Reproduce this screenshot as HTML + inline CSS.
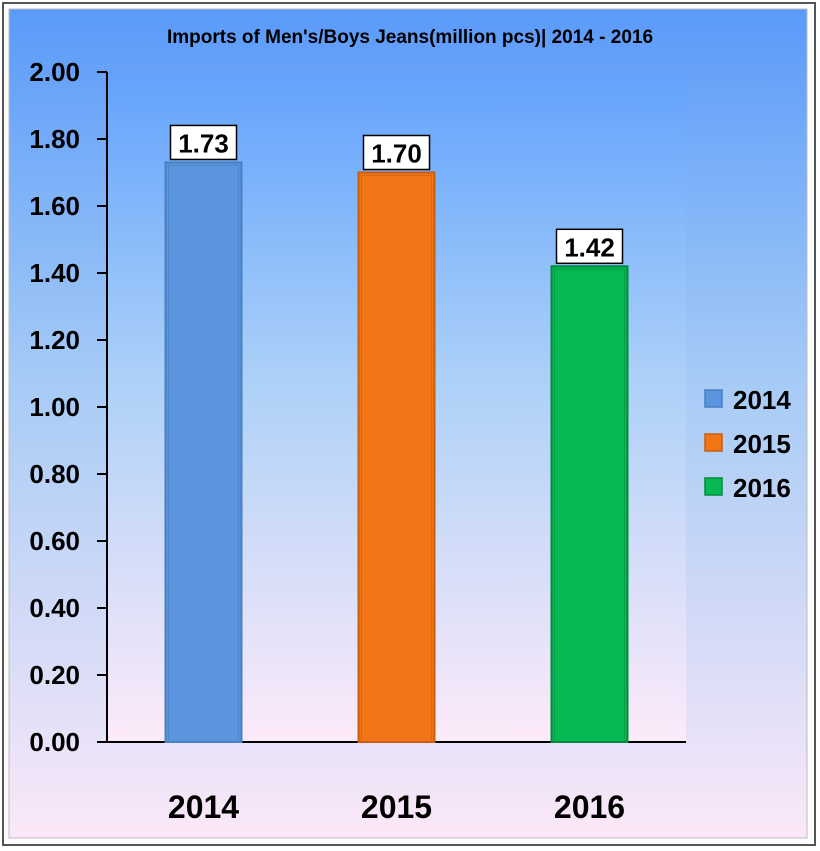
<!DOCTYPE html>
<html><head><meta charset="utf-8"><style>
body{margin:0;width:820px;height:851px;background:#fff;overflow:hidden}
svg{display:block;font-family:"Liberation Sans",sans-serif}
</style></head><body>
<svg width="820" height="851">
<defs>
<linearGradient id="bg" x1="0" y1="0" x2="0" y2="1"><stop offset="0" stop-color="#5a9afa"/><stop offset="0.45" stop-color="#a6cbf6"/><stop offset="1" stop-color="#fbe8f8"/></linearGradient>
<linearGradient id="pg" x1="0" y1="0" x2="0" y2="1"><stop offset="0" stop-color="#62a2fd"/><stop offset="0.45" stop-color="#abd0f8"/><stop offset="1" stop-color="#fdeaf9"/></linearGradient>
</defs>
<rect x="0" y="0" width="820" height="851" fill="#fff"/>
<rect x="3" y="3" width="812" height="842" fill="none" stroke="#555" stroke-width="2"/>
<rect x="9" y="9" width="798" height="829" fill="url(#bg)" stroke="#bbb" stroke-width="1"/>
<rect x="107" y="72" width="579" height="670" fill="url(#pg)"/>
<text x="410" y="43" text-anchor="middle" font-size="19" font-weight="bold" fill="#000">Imports of Men's/Boys Jeans(million pcs)| 2014 - 2016</text>
<g id="axes"></g>
<g id="bars"></g>
<g id="legend"></g>
</svg>
<script>
const categories=["2014","2015","2016"];
const values=[1.73,1.70,1.42];
const yTicks=[0,0.2,0.4,0.6,0.8,1.0,1.2,1.4,1.6,1.8,2.0];
const colors=["#5b95de","#f17415","#06b953"];
const strokes=["#4a7fc0","#c85e10","#038a3d"];
const NS="http://www.w3.org/2000/svg";
const X0=107,X1=686,Y0=742,Y1=72,YMAX=2;
const y=v=>Y0-(v/YMAX)*(Y0-Y1);
const band=(X1-X0)/categories.length;
const xc=i=>X0+band*(i+0.5);
function mk(t,a,p){const e=document.createElementNS(NS,t);for(const k in a)e.setAttribute(k,a[k]);p.appendChild(e);return e;}
const ax=document.getElementById('axes'),bg=document.getElementById('bars'),lg=document.getElementById('legend');
yTicks.forEach(v=>{
 const l=mk('line',{x1:97,x2:X0,y1:y(v),y2:y(v),stroke:'#000','stroke-width':2},ax);
 
 
 const t=mk('text',{x:80,y:y(v)+9,'text-anchor':'end','font-size':26,'font-weight':'bold'},ax);
 t.textContent=v.toFixed(2);
 
 
});
const ya=mk('line',{x1:X0,x2:X0,y1:Y1,y2:Y0,stroke:'#000','stroke-width':2},ax);


categories.forEach((c,i)=>{
 const bw=76,x=xc(i)-bw/2,top=y(values[i]);
 const r=mk('rect',{x:x,y:top,width:bw,height:Y0-top,fill:colors[i],stroke:strokes[i],'stroke-width':2},bg);
 
 
 mk('rect',{x:x+3,y:top+3,width:bw-6,height:Y0-top-3,fill:'none',stroke:strokes[i],'stroke-width':1,opacity:0.6},bg);
 const lb=mk('rect',{x:xc(i)-33,y:top-37,width:66,height:34,fill:'#fff',stroke:'#000','stroke-width':1.5},bg);
 
 
 const vt=mk('text',{x:xc(i),y:top-10,'text-anchor':'middle','font-size':26,'font-weight':'bold'},bg);
 vt.textContent=values[i].toFixed(2);
 
 
 const ct=mk('text',{x:xc(i),y:818,'text-anchor':'middle','font-size':32,'font-weight':'bold'},ax);
 ct.textContent=c;
 
 
 const ly=400+i*44;
 const ls=mk('rect',{x:705,y:ly-10,width:17,height:17,fill:colors[i],stroke:strokes[i],'stroke-width':1.5},lg);
 
 
 const lt=mk('text',{x:733,y:ly+9,'font-size':26,'font-weight':'bold'},lg);
 lt.textContent=c;
 
 
});
const xa=mk('line',{x1:X0,x2:X1,y1:Y0,y2:Y0,stroke:'#000','stroke-width':2},ax);


</script>
</body></html>
